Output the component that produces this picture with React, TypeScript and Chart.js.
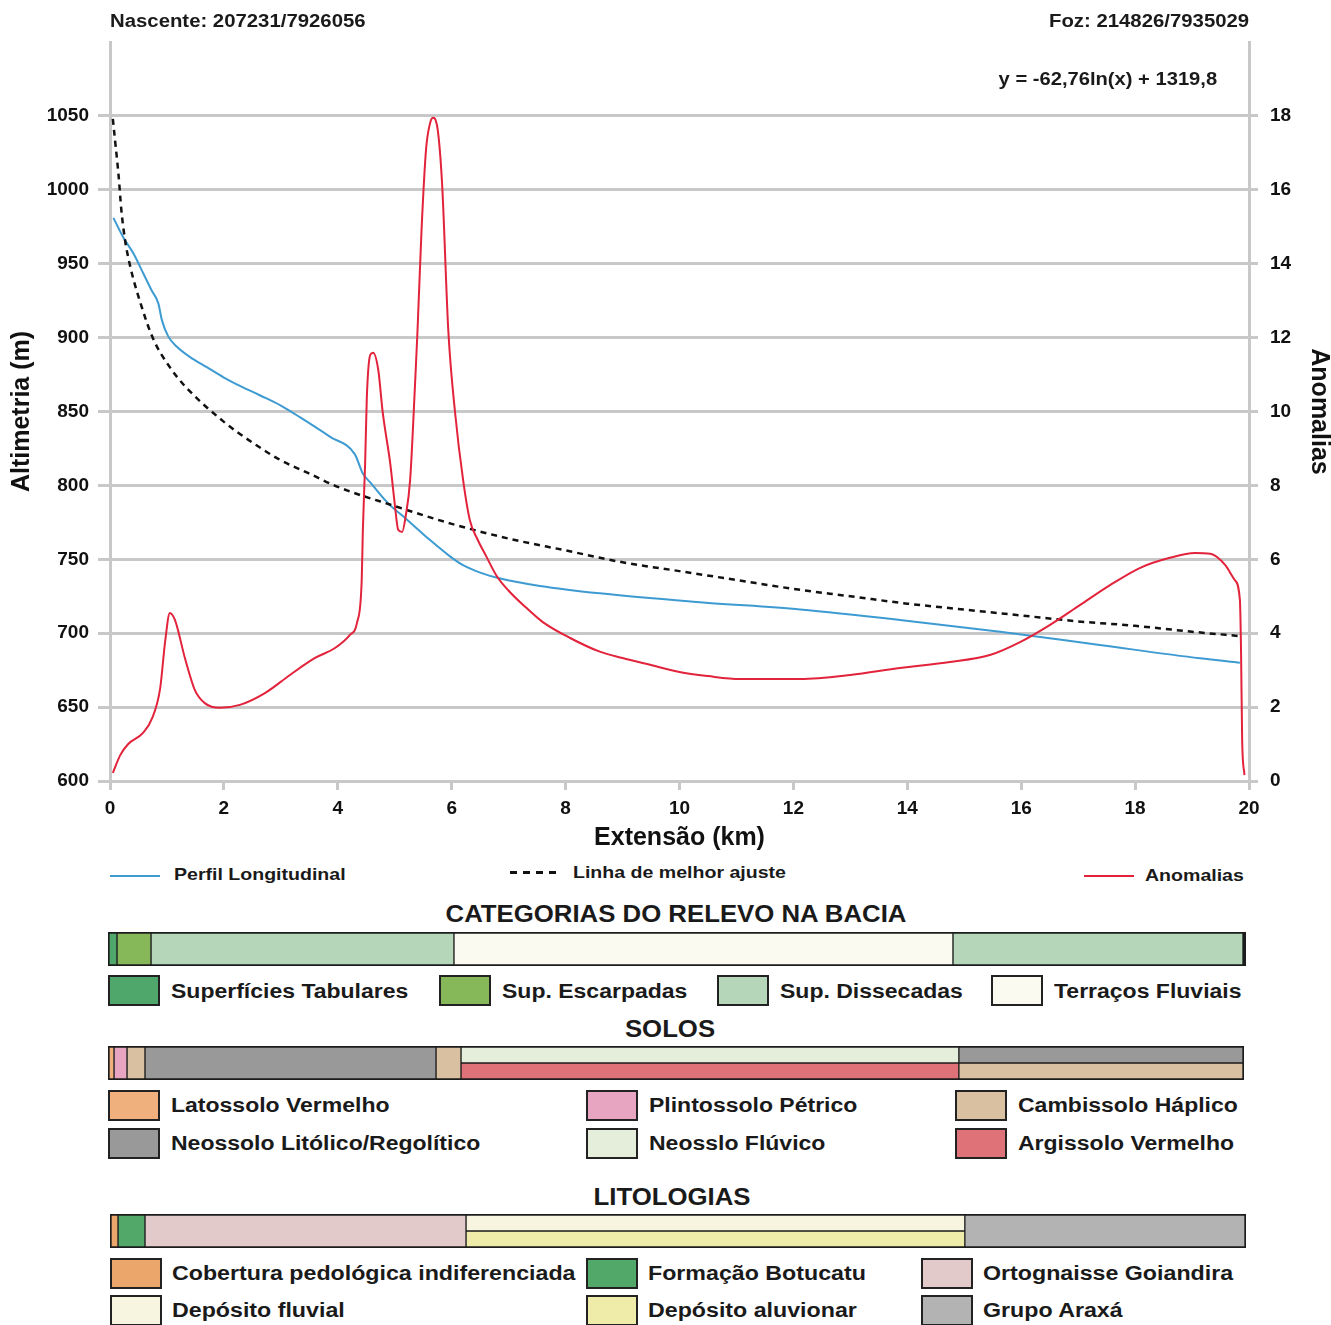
import React, { useEffect, useRef } from 'react';
import { Chart, registerables } from 'chart.js';
Chart.register(...registerables);

// ---------- main chart data ----------
const profileKm = [0.06, 0.23, 0.41, 0.59, 0.73, 0.85, 0.91, 1.02, 1.17, 1.4, 1.7, 2.0, 2.3, 2.63, 3.0, 3.34, 3.86, 4.3, 4.44, 4.57, 4.88, 5.21, 5.62, 5.97, 6.2, 6.5, 6.85, 7.55, 8.6, 10.36, 12.12, 13.87, 15.63, 17.38, 19.14, 19.84];
const profileAlt = [981, 968, 957, 943, 932, 923, 912, 901, 894, 887, 880, 873, 867, 861, 854, 846, 833, 821, 808, 802, 788, 777, 763, 752, 746, 741, 737, 732, 727, 721, 716, 709, 701, 692, 683, 680];

const fitKm = [0.05, 0.09, 0.15, 0.2, 0.26, 0.35, 0.53, 0.76, 1.05, 1.32, 2, 2.5, 3, 3.5, 4, 5, 6, 7, 8, 9, 10, 11, 12, 13, 14, 15, 16, 17, 18, 19, 19.85];
const fitAlt = [1048, 1033, 1010, 986, 967, 949, 924, 899, 880, 867, 843, 829, 817, 808, 799, 786, 774, 764, 756, 748, 742, 736, 730, 725, 720, 716, 712, 708, 705, 701, 698];

const anomalyKm = [0.05, 0.18, 0.32, 0.58, 0.74, 0.88, 0.97, 1.05, 1.14, 1.32, 1.49, 1.67, 1.93, 2.28, 2.72, 3.16, 3.6, 3.95, 4.21, 4.34, 4.42, 4.44, 4.48, 4.51, 4.57, 4.62, 4.71, 4.79, 4.92, 5.0, 5.06, 5.13, 5.19, 5.27, 5.36, 5.4, 5.47, 5.55, 5.62, 5.67, 5.74, 5.83, 5.94, 6.06, 6.2, 6.32, 6.45, 6.6, 6.79, 7.0, 7.3, 7.6, 8.08, 8.6, 9.0, 9.5, 10.0, 10.5, 11.06, 12.12, 13.0, 13.87, 14.75, 15.45, 15.98, 16.5, 17.03, 17.56, 18.09, 18.61, 19.05, 19.32, 19.58, 19.75, 19.84, 19.86, 19.88, 19.92];
const anomalyVal = [0.22, 0.7, 1.0, 1.3, 1.7, 2.5, 3.8, 4.55, 4.36, 3.3, 2.46, 2.1, 1.98, 2.06, 2.38, 2.87, 3.33, 3.6, 3.95, 4.3, 5.44, 6.8, 8.6, 10.4, 11.53, 11.59, 11.13, 9.96, 8.6, 7.5, 6.8, 6.74, 7.15, 8.15, 10.86, 12.2, 14.9, 17.1, 17.8, 17.95, 17.76, 16.2, 12.2, 9.96, 8.15, 7.05, 6.55, 6.1, 5.55, 5.15, 4.7, 4.3, 3.87, 3.5, 3.33, 3.14, 2.95, 2.84, 2.76, 2.76, 2.87, 3.06, 3.22, 3.41, 3.76, 4.22, 4.76, 5.3, 5.77, 6.04, 6.17, 6.15, 5.85, 5.44, 4.9, 3.55, 1.1, 0.16];

const seriesNames = ['Perfil Longitudinal', 'Linha de melhor ajuste', 'Anomalias'];
const altTicks = [600, 650, 700, 750, 800, 850, 900, 950, 1000, 1050];
const anomalyTicks = [0, 2, 4, 6, 8, 10, 12, 14, 16, 18];
const headerLeft = 'Nascente: 207231/7926056';
const headerRight = 'Foz: 214826/7935029';
const equation = 'y = -62,76ln(x) + 1319,8';

// ---------- bands data ----------
const reliefNames = ['Superfícies Tabulares', 'Sup. Escarpadas', 'Sup. Dissecadas', 'Terraços Fluviais'];
const reliefColors = ['#4fa76b', '#86b85a', '#b5d6b8', '#fbfaf1'];
const reliefStart = [0, 0.158, 0.756, 6.08, 14.85];
const reliefEnd = [0.158, 0.756, 6.08, 14.85, 20];
const reliefClass = [0, 1, 2, 3, 2];
const reliefRow = ['full', 'full', 'full', 'full', 'full'];

const soilNames = ['Latossolo Vermelho', 'Plintossolo Pétrico', 'Cambissolo Háplico', 'Neossolo Litólico/Regolítico', 'Neosslo Flúvico', 'Argissolo Vermelho'];
const soilColors = ['#efb07e', '#e8a5c2', '#d9c0a0', '#999999', '#e4eedb', '#df7179'];
const soilStart = [0, 0.106, 0.335, 0.651, 5.775, 6.215, 6.215, 14.98, 14.98];
const soilEnd = [0.106, 0.335, 0.651, 5.775, 6.215, 14.98, 14.98, 20, 20];
const soilClass = [0, 1, 2, 3, 2, 4, 5, 3, 2];
const soilRow = ['full', 'full', 'full', 'full', 'full', 'top', 'bottom', 'top', 'bottom'];

const lithoNames = ['Cobertura pedológica indiferenciada', 'Formação Botucatu', 'Ortognaisse Goiandira', 'Depósito fluvial', 'Depósito aluvionar', 'Grupo Araxá'];
const lithoColors = ['#eaa66b', '#52a868', '#e2cacb', '#f7f5df', '#efeba9', '#b3b3b3'];
const lithoStart = [0, 0.141, 0.616, 6.268, 6.268, 15.05];
const lithoEnd = [0.141, 0.616, 6.268, 15.05, 15.05, 20];
const lithoClass = [0, 1, 2, 3, 4, 5];
const lithoRow = ['full', 'full', 'full', 'top', 'bottom', 'full'];

const FONT = '"Liberation Sans", Arial, Helvetica, sans-serif';
const BLUE = '#3d9bd2';
const RED = '#e2233b';
const GRID = '#c8c8c8';

function toPoints(xs: number[], ys: number[]) {
  return xs.map((x, i) => ({ x, y: ys[i] }));
}

function MainChart() {
  const ref = useRef<HTMLCanvasElement>(null);
  useEffect(() => {
    const tickFont = { family: FONT, size: 19, weight: 'bold' as const };
    const titleFont = { family: FONT, size: 25, weight: 'bold' as const, lineHeight: 1.2 };
    const chart = new Chart(ref.current!, {
      type: 'line',
      data: {
        datasets: [
          {
            label: seriesNames[2], data: toPoints(anomalyKm, anomalyVal), yAxisID: 'y2',
            borderColor: RED, borderWidth: 2, pointRadius: 0, cubicInterpolationMode: 'monotone', fill: false,
          },
          {
            label: seriesNames[1], data: toPoints(fitKm, fitAlt), yAxisID: 'y',
            borderColor: '#111', borderWidth: 2.5, borderDash: [6, 5], pointRadius: 0, cubicInterpolationMode: 'monotone', fill: false,
          },
          {
            label: seriesNames[0], data: toPoints(profileKm, profileAlt), yAxisID: 'y',
            borderColor: BLUE, borderWidth: 2, pointRadius: 0, cubicInterpolationMode: 'monotone', fill: false,
          },
        ],
      },
      options: {
        animation: false,
        responsive: false,
        devicePixelRatio: 1,
        maintainAspectRatio: false,
        layout: { padding: { top: 42, left: 0, right: 0, bottom: 0 } },
        plugins: { legend: { display: false }, tooltip: { enabled: false } },
        scales: {
          x: {
            type: 'linear', min: 0, max: 20, position: 'bottom',
            afterFit: (s: any) => { s.height = 72; },
            ticks: { stepSize: 2, font: tickFont, color: '#111', padding: 7, maxRotation: 0 },
            grid: { drawOnChartArea: false, drawTicks: true, tickLength: 9, color: GRID, lineWidth: 3 },
            border: { display: true, color: GRID, width: 3 },
            title: { display: true, text: 'Extensão (km)', font: titleFont, color: '#111', padding: { top: 0, bottom: 0 } },
          },
          y: {
            type: 'linear', min: 600, max: 1100, position: 'left',
            afterFit: (s: any) => { s.width = 110; },
            afterBuildTicks: (s: any) => { s.ticks = [...altTicks, 1100].map((v) => ({ value: v })); },
            ticks: { font: tickFont, color: '#111', padding: 9, callback: (v: any) => (altTicks.includes(v) ? String(v) : '') },
            grid: { tickLength: 12, lineWidth: 3, color: (c: any) => (c.tick && c.tick.value > 1050 ? 'rgba(0,0,0,0)' : GRID) },
            border: { display: true, color: GRID, width: 3 },
            title: { display: true, text: 'Altimetria (m)', font: titleFont, color: '#111', padding: { top: 7, bottom: 0 } },
          },
          y2: {
            type: 'linear', min: 0, max: 20, position: 'right',
            afterFit: (s: any) => { s.width = 82; },
            afterBuildTicks: (s: any) => { s.ticks = [...anomalyTicks, 20].map((v) => ({ value: v })); },
            ticks: { font: tickFont, color: '#111', padding: 12, callback: (v: any) => (anomalyTicks.includes(v) ? String(v) : '') },
            grid: { drawOnChartArea: false, tickLength: 9, lineWidth: 3, color: (c: any) => (c.tick && c.tick.value > 18 ? 'rgba(0,0,0,0)' : GRID) },
            border: { display: true, color: GRID, width: 3 },
            title: { display: true, text: 'Anomalias', font: { ...titleFont, lineHeight: 1 }, color: '#111', padding: { top: 0, bottom: 0 } },
          },
        },
      } as any,
    });
    return () => chart.destroy();
  }, []);
  return <canvas ref={ref} width={1331} height={853} style={{ position: 'absolute', left: 0, top: 0, width: 1331, height: 853 }} />;
}

function Band(props: { left: number; top: number; width: number; height: number; starts: number[]; ends: number[]; cls: number[]; rows: string[]; colors: string[]; endBorder: number }) {
  const ref = useRef<HTMLCanvasElement>(null);
  const { left, top, width, height, starts, ends, cls, rows, colors, endBorder } = props;
  useEffect(() => {
    const datasets = starts.map((s, i) => {
      const row = rows[i];
      const data: any[] = [row !== 'bottom' ? [s, ends[i]] : null, row !== 'top' ? [s, ends[i]] : null];
      return {
        data,
        backgroundColor: colors[cls[i]],
        borderColor: '#1c1c1c',
        borderSkipped: false,
        grouped: false,
        categoryPercentage: 1,
        barPercentage: 1,
        borderWidth: (c: any) => {
          const isTop = c.dataIndex === 0;
          const full = row === 'full';
          return {
            top: isTop ? 2 : full ? 0 : 1,
            bottom: isTop ? (full ? 0 : 1) : 2,
            left: s <= 0 ? 2 : 1,
            right: ends[i] >= 20 ? endBorder : 1,
          };
        },
      };
    });
    const chart = new Chart(ref.current!, {
      type: 'bar',
      data: { labels: ['a', 'b'], datasets },
      options: {
        indexAxis: 'y',
        animation: false,
        responsive: false,
        devicePixelRatio: 1,
        layout: { padding: 0 },
        plugins: { legend: { display: false }, tooltip: { enabled: false } },
        scales: {
          x: { type: 'linear', min: 0, max: 20, display: false },
          y: { display: false },
        },
      } as any,
    });
    return () => chart.destroy();
  }, []);
  return <canvas ref={ref} width={width} height={height} style={{ position: 'absolute', left, top, width, height }} />;
}

function Txt(props: { x: number; y: number; size: number; anchor?: 'left' | 'right' | 'center'; sx?: number; children: any }) {
  const { x, y, size, anchor = 'left', sx = 1.15 } = props;
  const style: any = {
    position: 'absolute', top: y - size * 0.59, fontFamily: FONT, fontWeight: 700, fontSize: size,
    lineHeight: `${size * 1.2}px`, whiteSpace: 'nowrap', color: '#1a1a1a',
  };
  if (anchor === 'left') {
    style.left = x; style.transform = `scaleX(${sx})`; style.transformOrigin = 'left center';
  } else if (anchor === 'right') {
    style.right = 1331 - x; style.transform = `scaleX(${sx})`; style.transformOrigin = 'right center';
  } else {
    style.left = x; style.transform = `translateX(-50%) scaleX(${sx})`; style.transformOrigin = 'center center';
  }
  return <div style={style}>{props.children}</div>;
}

function Swatch(props: { x: number; y: number; color: string }) {
  return (
    <div style={{ position: 'absolute', left: props.x, top: props.y, width: 52, height: 31, boxSizing: 'border-box', border: '2px solid #222', background: props.color }} />
  );
}

export default function App() {
  const reliefX = [108, 439, 717, 991];
  const soilX = [108, 586, 955];
  const soilRowsY = [1090, 1128];
  const lithoX = [110, 586, 921];
  const lithoRowsY = [1258, 1295];
  return (
    <div style={{ position: 'absolute', left: 0, top: 0, width: 1331, height: 1325, background: '#fff', overflow: 'hidden' }}>
      <MainChart />
      <Txt x={110} y={21.5} size={18} sx={1.13}>{headerLeft}</Txt>
      <Txt x={1249} y={21.5} size={18} sx={1.13} anchor="right">{headerRight}</Txt>
      <Txt x={1217} y={80} size={18} sx={1.12} anchor="right">{equation}</Txt>

      {/* main legend */}
      <div style={{ position: 'absolute', left: 110, top: 875, width: 50, height: 2, background: BLUE }} />
      <Txt x={174} y={875} size={17}>{seriesNames[0]}</Txt>
      <div style={{ position: 'absolute', left: 510, top: 871, width: 47, height: 3, background: 'repeating-linear-gradient(to right, #111 0 7px, transparent 7px 13px)' }} />
      <Txt x={573} y={873} size={17}>{seriesNames[1]}</Txt>
      <div style={{ position: 'absolute', left: 1084, top: 875, width: 50, height: 2, background: RED }} />
      <Txt x={1145} y={876} size={17}>{seriesNames[2]}</Txt>

      {/* relief */}
      <Txt x={676} y={915} size={23} sx={1.12} anchor="center">CATEGORIAS DO RELEVO NA BACIA</Txt>
      <Band left={108} top={932} width={1138} height={34} starts={reliefStart} ends={reliefEnd} cls={reliefClass} rows={reliefRow} colors={reliefColors} endBorder={4} />
      {reliefNames.map((n, i) => (
        <React.Fragment key={n}>
          <Swatch x={reliefX[i]} y={975} color={reliefColors[i]} />
          <Txt x={reliefX[i] + 63} y={991} size={20}>{n}</Txt>
        </React.Fragment>
      ))}

      {/* soils */}
      <Txt x={670} y={1030} size={23} sx={1.12} anchor="center">SOLOS</Txt>
      <Band left={108} top={1046} width={1136} height={34} starts={soilStart} ends={soilEnd} cls={soilClass} rows={soilRow} colors={soilColors} endBorder={2} />
      {soilNames.map((n, i) => {
        const col = i % 3;
        const row = Math.floor(i / 3);
        return (
          <React.Fragment key={n}>
            <Swatch x={soilX[col]} y={soilRowsY[row]} color={soilColors[i]} />
            <Txt x={soilX[col] + 63} y={soilRowsY[row] + 15} size={20}>{n}</Txt>
          </React.Fragment>
        );
      })}

      {/* lithology */}
      <Txt x={672} y={1198} size={23} sx={1.12} anchor="center">LITOLOGIAS</Txt>
      <Band left={110} top={1214} width={1136} height={34} starts={lithoStart} ends={lithoEnd} cls={lithoClass} rows={lithoRow} colors={lithoColors} endBorder={2} />
      {lithoNames.map((n, i) => {
        const col = i % 3;
        const row = Math.floor(i / 3);
        return (
          <React.Fragment key={n}>
            <Swatch x={lithoX[col]} y={lithoRowsY[row]} color={lithoColors[i]} />
            <Txt x={lithoX[col] + 62} y={lithoRowsY[row] + 15} size={20} sx={1.16}>{n}</Txt>
          </React.Fragment>
        );
      })}
    </div>
  );
}
